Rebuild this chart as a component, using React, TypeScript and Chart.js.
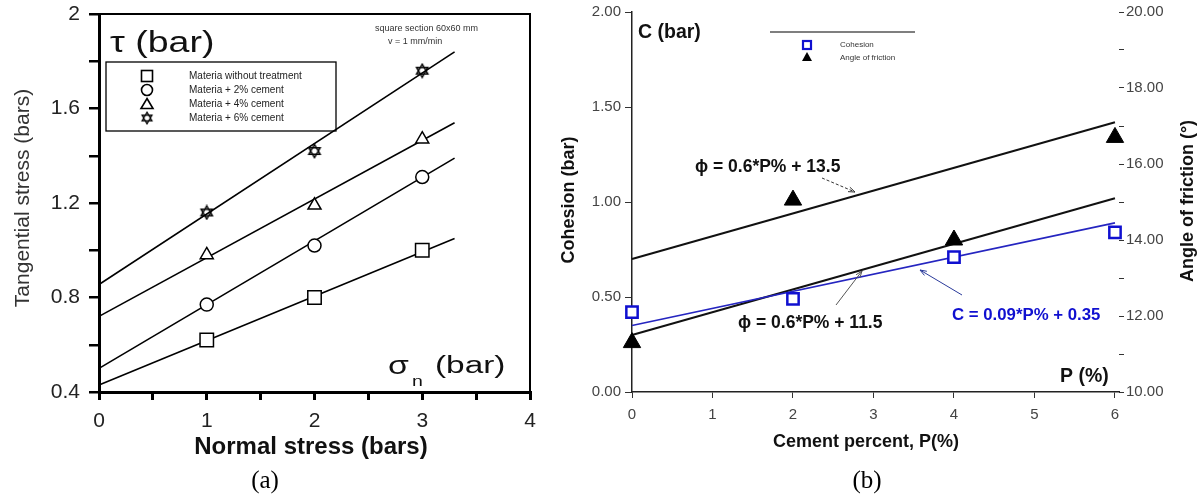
import { useEffect, useRef } from 'react';
import { Chart, registerables } from 'chart.js';

Chart.register(...registerables);

// ---------- Data: panel (a) ----------
const NORMAL_STRESS = [1, 2, 3];
const TAU_UNTREATED = [0.62, 0.8, 1.0];
const TAU_2PCT = [0.77, 1.02, 1.31];
const TAU_4PCT = [0.98, 1.19, 1.47];
const TAU_6PCT = [1.16, 1.42, 1.76];
const FIT_STRESS = [0, 3.3];
const FIT_UNTREATED = [0.43, 1.05];
const FIT_2PCT = [0.5, 1.39];
const FIT_4PCT = [0.72, 1.54];
const FIT_6PCT = [0.855, 1.84];
const LEGEND_A = [
  'Materia without treatment',
  'Materia + 2% cement',
  'Materia + 4% cement',
  'Materia + 6% cement',
];

// ---------- Data: panel (b) ----------
const CEMENT_PCT = [0, 2, 4, 6];
const COHESION = [0.42, 0.49, 0.71, 0.84];
const FRICTION = [11.3, 15.05, 14.0, 16.7];
const FIT_PCT = [0, 6];
const FIT_COHESION = [0.35, 0.89];
const FIT_FRICTION_UPPER = [13.5, 17.1];
const FIT_FRICTION_LOWER = [11.5, 15.1];
const LEGEND_B = ['Cohesion', 'Angle of friction'];

const SANS = '"Liberation Sans", Arial, sans-serif';
const SERIF = '"Liberation Serif", "Times New Roman", serif';
const BLUE = '#1010d0';

const pts = (xs: number[], ys: number[]) => xs.map((x, i) => ({ x, y: ys[i] }));

function makeHexagram(size: number, lw: number) {
  const c = document.createElement('canvas');
  c.width = size;
  c.height = size;
  const g = c.getContext('2d')!;
  const cx = size / 2;
  const r = size / 2 - lw;
  g.strokeStyle = '#000';
  g.lineWidth = lw;
  for (const off of [-Math.PI / 2, Math.PI / 2]) {
    g.beginPath();
    for (let i = 0; i < 3; i++) {
      const a = off + (i * 2 * Math.PI) / 3;
      const x = cx + r * Math.cos(a);
      const y = cx + r * Math.sin(a);
      if (i === 0) g.moveTo(x, y);
      else g.lineTo(x, y);
    }
    g.closePath();
    g.stroke();
  }
  return c;
}

function text(
  ctx: CanvasRenderingContext2D,
  s: string,
  x: number,
  y: number,
  font: string,
  color = '#000',
  align: CanvasTextAlign = 'left',
  rot = 0,
  sx = 1
) {
  ctx.save();
  ctx.font = font;
  ctx.fillStyle = color;
  ctx.textAlign = align;
  ctx.textBaseline = 'middle';
  ctx.translate(x, y);
  if (rot) ctx.rotate(rot);
  if (sx !== 1) ctx.scale(sx, 1);
  ctx.fillText(s, 0, 0);
  ctx.restore();
}

function arrow(
  ctx: CanvasRenderingContext2D,
  x1: number,
  y1: number,
  x2: number,
  y2: number,
  color: string,
  dash: number[] = []
) {
  ctx.save();
  ctx.strokeStyle = color;
  ctx.fillStyle = color;
  ctx.lineWidth = 1;
  ctx.setLineDash(dash);
  ctx.beginPath();
  ctx.moveTo(x1, y1);
  ctx.lineTo(x2, y2);
  ctx.stroke();
  ctx.setLineDash([]);
  const a = Math.atan2(y2 - y1, x2 - x1);
  const L = 7;
  ctx.beginPath();
  ctx.moveTo(x2, y2);
  ctx.lineTo(x2 - L * Math.cos(a - 0.35), y2 - L * Math.sin(a - 0.35));
  ctx.moveTo(x2, y2);
  ctx.lineTo(x2 - L * Math.cos(a + 0.35), y2 - L * Math.sin(a + 0.35));
  ctx.stroke();
  ctx.restore();
}

const fixV = (w: number) => (s: any) => {
  s.width = w;
  s.paddingTop = 0;
  s.paddingBottom = 0;
};
const fixH = (h: number) => (s: any) => {
  s.height = h;
  s.paddingLeft = 0;
  s.paddingRight = 0;
};

function configA(hex: HTMLCanvasElement): any {
  const pointDs = (data: number[], style: any, radius: number) => ({
    data: pts(NORMAL_STRESS, data),
    showLine: false,
    pointStyle: style,
    pointRadius: radius,
    pointBorderWidth: 1.5,
    pointBorderColor: '#000',
    pointBackgroundColor: '#fff',
    order: 1,
    clip: false,
  });
  const lineDs = (data: number[]) => ({
    data: pts(FIT_STRESS, data),
    showLine: true,
    borderColor: '#000',
    borderWidth: 1.6,
    pointRadius: 0,
    order: 2,
    clip: false,
  });
  const overlay = {
    id: 'overlayA',
    afterDraw(chart: any) {
      const ctx: CanvasRenderingContext2D = chart.ctx;
      const ca = chart.chartArea;
      ctx.save();
      ctx.strokeStyle = '#000';
      ctx.lineWidth = 2;
      ctx.beginPath();
      ctx.moveTo(ca.left, ca.top);
      ctx.lineTo(ca.right, ca.top);
      ctx.lineTo(ca.right, ca.bottom);
      ctx.stroke();
      // legend box
      ctx.lineWidth = 1.3;
      ctx.strokeRect(106, 62, 230, 69);
      const rows = [76, 90, 104, 118];
      const sx = 147;
      ctx.lineWidth = 1.6;
      ctx.strokeRect(sx - 5.5, rows[0] - 5.5, 11, 11);
      ctx.beginPath();
      ctx.ellipse(sx, rows[1], 5.5, 5.5, 0, 0, Math.PI * 2);
      ctx.stroke();
      ctx.beginPath();
      ctx.moveTo(sx, rows[2] - 5.5);
      ctx.lineTo(sx + 6, rows[2] + 4.5);
      ctx.lineTo(sx - 6, rows[2] + 4.5);
      ctx.closePath();
      ctx.stroke();
      ctx.drawImage(hex, sx - 7, rows[3] - 7, 14, 14);
      ctx.restore();
      LEGEND_A.forEach((s, i) => text(ctx, s, 189, rows[i], `10px ${SANS}`, '#222'));
      text(ctx, 'square section 60x60 mm', 375, 29, `9px ${SANS}`, '#333');
      text(ctx, 'v = 1 mm/min', 388, 42, `9px ${SANS}`, '#333');
      text(ctx, 'τ (bar)', 110, 44, `30px ${SANS}`, '#111', 'left', 0, 1.25);
      text(ctx, 'σ', 388, 367, `25px ${SANS}`, '#111', 'left', 0, 1.35);
      text(ctx, 'n', 412, 382, `15px ${SANS}`, '#111', 'left', 0, 1.3);
      text(ctx, '(bar)', 435, 367, `23px ${SANS}`, '#111', 'left', 0, 1.45);
      text(ctx, 'Tangential stress (bars)', 23, 198, `21px ${SANS}`, '#333', 'center', -Math.PI / 2);
      text(ctx, 'Normal stress (bars)', 311, 447, `bold 24px ${SANS}`, '#111', 'center');
      text(ctx, '(a)', 265, 481, `25px ${SERIF}`, '#000', 'center');
    },
  };
  return {
    type: 'scatter',
    data: {
      datasets: [
        pointDs(TAU_UNTREATED, 'rect', 9.5),
        pointDs(TAU_2PCT, 'circle', 6.5),
        pointDs(TAU_4PCT, 'triangle', 7.5),
        pointDs(TAU_6PCT, hex, 8),
        lineDs(FIT_UNTREATED),
        lineDs(FIT_2PCT),
        lineDs(FIT_4PCT),
        lineDs(FIT_6PCT),
      ],
    },
    options: {
      responsive: false,
      animation: false,
      layout: { padding: { top: 14, right: 30, left: 0, bottom: 0 } },
      plugins: { legend: { display: false }, tooltip: { enabled: false } },
      scales: {
        x: {
          type: 'linear',
          min: 0,
          max: 4,
          ticks: {
            stepSize: 0.5,
            autoSkip: false,
            maxRotation: 0,
            padding: 9,
            color: '#222',
            font: { family: SANS, size: 21 },
            callback: (v: number) => (Number.isInteger(v) ? String(v) : ''),
          },
          grid: { display: true, drawOnChartArea: false, drawTicks: true, tickLength: 8, color: '#000', lineWidth: 3 },
          border: { display: true, color: '#000', width: 3 },
          afterFit: fixH(105),
        },
        y: {
          type: 'linear',
          min: 0.4,
          max: 2,
          ticks: {
            stepSize: 0.2,
            autoSkip: false,
            padding: 9,
            color: '#222',
            font: { family: SANS, size: 21 },
            callback: (v: number) => {
              const k = Math.round(v * 10);
              if (k % 4 !== 0) return '';
              return k === 20 ? '2' : (k / 10).toFixed(1);
            },
          },
          grid: { display: true, drawOnChartArea: false, drawTicks: true, tickLength: 10, color: '#000', lineWidth: 2.5 },
          border: { display: true, color: '#000', width: 3 },
          afterFit: fixV(99),
        },
      },
    },
    plugins: [overlay],
  };
}

function configB(): any {
  const overlay = {
    id: 'overlayB',
    afterDraw(chart: any) {
      const ctx: CanvasRenderingContext2D = chart.ctx;
      ctx.save();
      ctx.strokeStyle = '#000';
      ctx.lineWidth = 1.2;
      ctx.beginPath();
      ctx.moveTo(210, 32);
      ctx.lineTo(355, 32);
      ctx.stroke();
      ctx.strokeStyle = BLUE;
      ctx.lineWidth = 2.2;
      ctx.strokeRect(243, 41, 8, 8);
      ctx.fillStyle = '#000';
      ctx.beginPath();
      ctx.moveTo(247, 52);
      ctx.lineTo(252, 61);
      ctx.lineTo(242, 61);
      ctx.closePath();
      ctx.fill();
      ctx.restore();
      text(ctx, LEGEND_B[0], 280, 45, `8px ${SANS}`, '#333');
      text(ctx, LEGEND_B[1], 280, 58, `8px ${SANS}`, '#333');
      text(ctx, 'C (bar)', 78, 33, `bold 19.5px ${SANS}`, '#111');
      text(ctx, 'ϕ = 0.6*P% + 13.5', 135, 167, `bold 17.5px ${SANS}`, '#111');
      arrow(ctx, 262, 178, 295, 192, '#333', [3, 2]);
      text(ctx, 'ϕ = 0.6*P% + 11.5', 178, 323, `bold 17.5px ${SANS}`, '#111');
      arrow(ctx, 276, 305, 302, 271, '#555');
      text(ctx, 'C = 0.09*P% + 0.35', 392, 315, `bold 16.8px ${SANS}`, BLUE);
      arrow(ctx, 402, 295, 360, 270, '#2a3a9a');
      text(ctx, 'P (%)', 500, 377, `bold 19.5px ${SANS}`, '#111');
      text(ctx, 'Cohesion (bar)', 9, 200, `bold 18px ${SANS}`, '#111', 'center', -Math.PI / 2);
      text(ctx, 'Angle of friction (°)', 628, 201, `bold 18px ${SANS}`, '#111', 'center', -Math.PI / 2);
      text(ctx, 'Cement percent, P(%)', 306, 442, `bold 18px ${SANS}`, '#111', 'center');
      text(ctx, '(b)', 307, 481, `25px ${SERIF}`, '#000', 'center');
    },
  };
  const gridOff = (len: number) => ({
    display: true,
    drawOnChartArea: false,
    drawTicks: true,
    tickLength: len,
    color: '#333',
    lineWidth: 1,
  });
  return {
    type: 'scatter',
    data: {
      datasets: [
        {
          data: pts(CEMENT_PCT, COHESION),
          yAxisID: 'y',
          showLine: false,
          pointStyle: 'rect',
          pointRadius: 8,
          pointBorderWidth: 2.5,
          pointBorderColor: BLUE,
          pointBackgroundColor: '#fff',
          order: 1,
          clip: false,
        },
        {
          data: pts(CEMENT_PCT, FRICTION),
          yAxisID: 'y2',
          showLine: false,
          pointStyle: 'triangle',
          pointRadius: 10,
          pointBorderWidth: 1,
          pointBorderColor: '#000',
          pointBackgroundColor: '#000',
          order: 1,
          clip: false,
        },
        {
          data: pts(FIT_PCT, FIT_COHESION),
          yAxisID: 'y',
          showLine: true,
          borderColor: '#2525c0',
          borderWidth: 1.6,
          pointRadius: 0,
          order: 2,
          clip: false,
        },
        {
          data: pts(FIT_PCT, FIT_FRICTION_UPPER),
          yAxisID: 'y2',
          showLine: true,
          borderColor: '#111',
          borderWidth: 2,
          pointRadius: 0,
          order: 3,
          clip: false,
        },
        {
          data: pts(FIT_PCT, FIT_FRICTION_LOWER),
          yAxisID: 'y2',
          showLine: true,
          borderColor: '#111',
          borderWidth: 2,
          pointRadius: 0,
          order: 3,
          clip: false,
        },
      ],
    },
    options: {
      responsive: false,
      animation: false,
      layout: { padding: { top: 12, right: 0, left: 0, bottom: 0 } },
      plugins: { legend: { display: false }, tooltip: { enabled: false } },
      scales: {
        x: {
          type: 'linear',
          min: 0,
          max: 6.05,
          ticks: {
            stepSize: 1,
            includeBounds: false,
            autoSkip: false,
            maxRotation: 0,
            padding: 8,
            color: '#444',
            font: { family: SANS, size: 15 },
          },
          grid: gridOff(6),
          border: { display: true, color: '#222', width: 1.5 },
          afterFit: fixH(105),
        },
        y: {
          type: 'linear',
          position: 'left',
          min: 0,
          max: 2,
          ticks: {
            stepSize: 0.5,
            padding: 4,
            color: '#444',
            font: { family: SANS, size: 15 },
            callback: (v: number) => v.toFixed(2),
          },
          grid: gridOff(7),
          border: { display: true, color: '#222', width: 1.5 },
          afterFit: fixV(72),
        },
        y2: {
          type: 'linear',
          position: 'right',
          min: 10,
          max: 20,
          ticks: {
            stepSize: 1,
            autoSkip: false,
            padding: 2,
            color: '#444',
            font: { family: SANS, size: 15 },
            callback: (v: number) => (Math.round(v) % 2 === 0 ? v.toFixed(2) : ''),
          },
          grid: gridOff(5),
          border: { display: false },
          afterFit: fixV(82),
        },
      },
    },
    plugins: [overlay],
  };
}

export default function App() {
  const refA = useRef<HTMLCanvasElement>(null);
  const refB = useRef<HTMLCanvasElement>(null);
  useEffect(() => {
    const hex = makeHexagram(16, 1.4);
    const a = new Chart(refA.current!, configA(hex));
    const b = new Chart(refB.current!, configB());
    return () => {
      a.destroy();
      b.destroy();
    };
  }, []);
  return (
    <div style={{ position: 'absolute', left: 0, top: 0, width: 1201, height: 497, background: '#fff' }}>
      <canvas ref={refA} width={560} height={497} style={{ position: 'absolute', left: 0, top: 0 }} />
      <canvas ref={refB} width={641} height={497} style={{ position: 'absolute', left: 560, top: 0 }} />
    </div>
  );
}
